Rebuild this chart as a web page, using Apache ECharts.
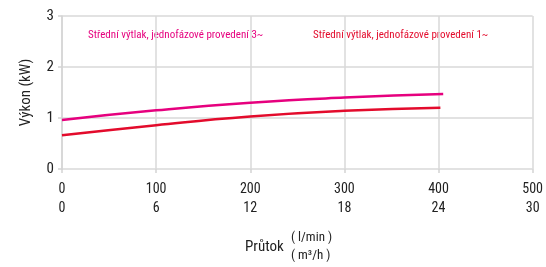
<!DOCTYPE html>
<html>
<head>
<meta charset="utf-8">
<script src="https://cdn.jsdelivr.net/npm/echarts@6/dist/echarts.min.js"></script>
<style>
  html, body { margin: 0; padding: 0; background: #fff; }
  #chart { width: 546px; height: 267px; }
</style>
</head>
<body>
<div id="chart"></div>
<script>
// flow in l/min, power in kW
const flowTicks = [0, 100, 200, 300, 400, 500];
const m3hTicks = [0, 6, 12, 18, 24, 30];

const series3 = [[0, 0.96], [100, 1.15], [200, 1.30], [300, 1.40], [405, 1.47]];
const series1 = [[0, 0.66], [100, 0.86], [200, 1.03], [300, 1.14], [402, 1.20]];

const seriesNames = [
  'Střední výtlak, jednofázové provedení 3~',
  'Střední výtlak, jednofázové provedení 1~'
];
const colors = ['#e6007e', '#e30b2c'];

const font = '"Liberation Sans Narrow", "Roboto Condensed", Roboto, sans-serif';

const chart = echarts.init(document.getElementById('chart'), null, { renderer: 'canvas' });

chart.setOption({
  animation: false,
  grid: { left: 62, right: 13, top: 16, bottom: 98 },
  xAxis: {
    type: 'value',
    min: 0, max: 500, interval: 100,
    axisLine: { show: false },
    axisTick: { show: true, length: 4, lineStyle: { color: '#d4d4d4', width: 1.5 } },
    splitLine: { show: true, lineStyle: { color: '#d9d9d9', width: 1.5 } },
    axisLabel: {
      color: '#222', fontFamily: font, fontSize: 14, margin: 11,
      lineHeight: 19,
      formatter: function (v) {
        const i = flowTicks.indexOf(v);
        return v + '\n' + (i >= 0 ? m3hTicks[i] : '');
      }
    }
  },
  yAxis: {
    type: 'value',
    min: 0, max: 3, interval: 1,
    name: 'Výkon (kW)',
    nameLocation: 'middle',
    nameGap: 28,
    nameTextStyle: { color: '#222', fontFamily: font, fontSize: 15 },
    axisLine: { show: true, lineStyle: { color: '#d4d4d4', width: 1.5 } },
    axisTick: { show: true, length: 4, lineStyle: { color: '#d4d4d4', width: 1.5 } },
    splitLine: { show: true, lineStyle: { color: '#d9d9d9', width: 1.5 } },
    axisLabel: { color: '#222', fontFamily: font, fontSize: 15, margin: 8 }
  },
  series: [
    {
      name: seriesNames[0], type: 'line', data: series3, smooth: true,
      showSymbol: false, lineStyle: { color: colors[0], width: 2.5 }
    },
    {
      name: seriesNames[1], type: 'line', data: series1, smooth: true,
      showSymbol: false, lineStyle: { color: colors[1], width: 2.5 }
    }
  ],
  graphic: [
    {
      type: 'text', left: 88, top: 30,
      style: { text: seriesNames[0], fill: colors[0], font: '11px ' + font }
    },
    {
      type: 'text', left: 313, top: 30,
      style: { text: seriesNames[1], fill: colors[1], font: '11px ' + font }
    },
    {
      type: 'text', left: 245, top: 240,
      style: { text: 'Průtok', fill: '#222', font: '15px ' + font }
    },
    {
      type: 'text', left: 291, top: 231,
      style: { text: '( l/min )', fill: '#222', font: '13px ' + font }
    },
    {
      type: 'text', left: 291, top: 249,
      style: { text: '( m³/h )', fill: '#222', font: '13px ' + font }
    }
  ]
});

window.addEventListener('resize', function () { chart.resize(); });
</script>
</body>
</html>
